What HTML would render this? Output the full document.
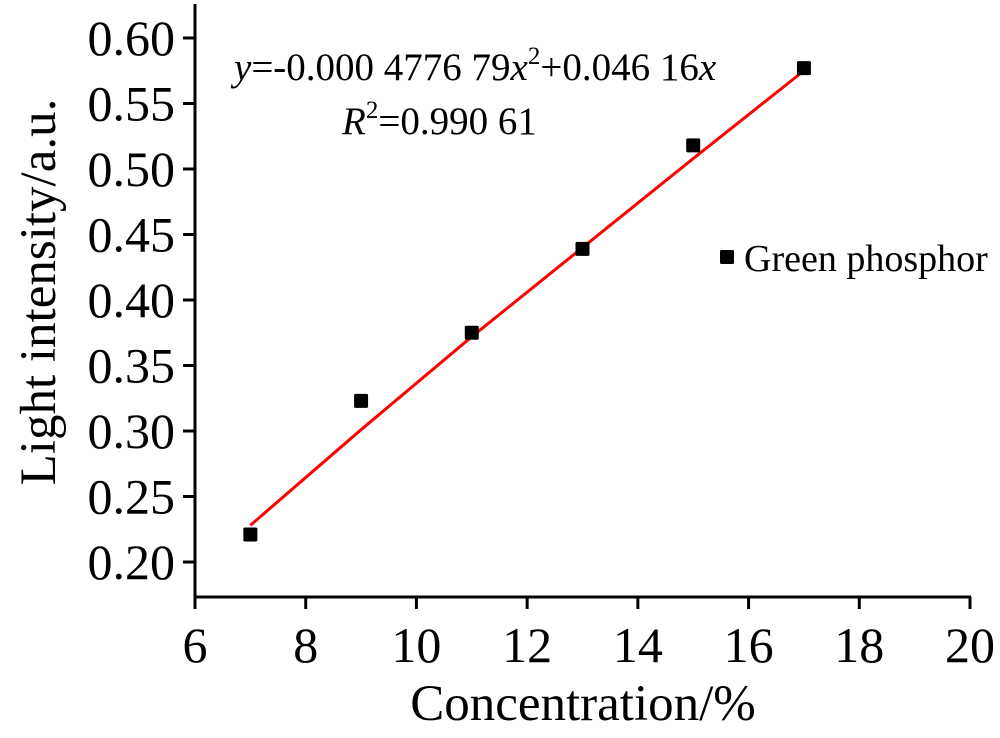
<!DOCTYPE html>
<html><head><meta charset="utf-8"><style>
body{margin:0;background:#fff}
svg text{font-family:"Liberation Serif",serif;fill:#000}
</style></head><body>
<svg id="c" width="1000" height="733" xmlns="http://www.w3.org/2000/svg"></svg>
<script>
const xTicks=[6,8,10,12,14,16,18,20];
const yTicks=[0.20,0.25,0.30,0.35,0.40,0.45,0.50,0.55,0.60];
const xData=[7,9,11,13,15,17];
const yData=[0.221,0.323,0.375,0.439,0.518,0.577];
const fitX=[7,9,11,13,15,17];
const fitY=[0.228,0.301,0.372,0.440,0.508,0.575];
const X0=195,X1=970,Y0=562,Y1=38;
const sx=v=>X0+(v-6)/(20-6)*(X1-X0);
const sy=v=>Y0-(v-0.20)/(0.60-0.20)*(Y0-Y1);
const svg=document.getElementById('c');
const NS='http://www.w3.org/2000/svg';
function mk(t,a,p){const e=document.createElementNS(NS,t);for(const k in a)e.setAttribute(k,a[k]);(p||svg).appendChild(e);return e;}
let e;
e=mk('line',{x1:X0,y1:597,x2:X1+1,y2:597,stroke:'#000','stroke-width':3});


e=mk('line',{x1:X0,y1:4,x2:X0,y2:598,stroke:'#000','stroke-width':3});


xTicks.forEach(v=>{
  e=mk('line',{x1:sx(v),y1:597,x2:sx(v),y2:609,stroke:'#000','stroke-width':3});
  
  
  e=mk('text',{x:sx(v),y:662,'font-size':50,'text-anchor':'middle'});e.textContent=v;
  
  
});
yTicks.forEach(v=>{
  e=mk('line',{x1:183,y1:sy(v),x2:X0,y2:sy(v),stroke:'#000','stroke-width':3});
  
  
  e=mk('text',{x:175,y:sy(v)+17,'font-size':50,'text-anchor':'end'});e.textContent=v.toFixed(2);
  
  
});
e=mk('text',{x:583,y:720,'font-size':51,'text-anchor':'middle'});e.textContent='Concentration/%';


e=mk('text',{x:0,y:0,'font-size':51,'text-anchor':'middle',transform:'translate(55,292) rotate(-90)'});e.textContent='Light intensity/a.u.';


e=mk('polyline',{points:fitX.map((v,i)=>sx(v)+','+sy(fitY[i])).join(' '),fill:'none',stroke:'#f00','stroke-width':3});


xData.forEach((v,i)=>{
  e=mk('rect',{x:sx(v)-7,y:sy(yData[i])-7,width:14,height:14,fill:'#000',rx:1.5});
  
  
});
e=mk('rect',{x:720,y:250,width:14,height:14,fill:'#000',rx:1.5});


e=mk('text',{x:744,y:271,'font-size':38});e.textContent='Green phosphor';


e=mk('text',{x:234,y:80,'font-size':39});


e.innerHTML='<tspan font-style="italic">y</tspan>=-0.000 4776 79<tspan font-style="italic">x</tspan><tspan font-size="25" dy="-16">2</tspan><tspan dy="16">+0.046 16</tspan><tspan font-style="italic">x</tspan>';
e=mk('text',{x:342,y:134,'font-size':39});


e.innerHTML='<tspan font-style="italic">R</tspan><tspan font-size="25" dy="-16">2</tspan><tspan dy="16">=0.990 61</tspan>';
</script>
</body></html>
